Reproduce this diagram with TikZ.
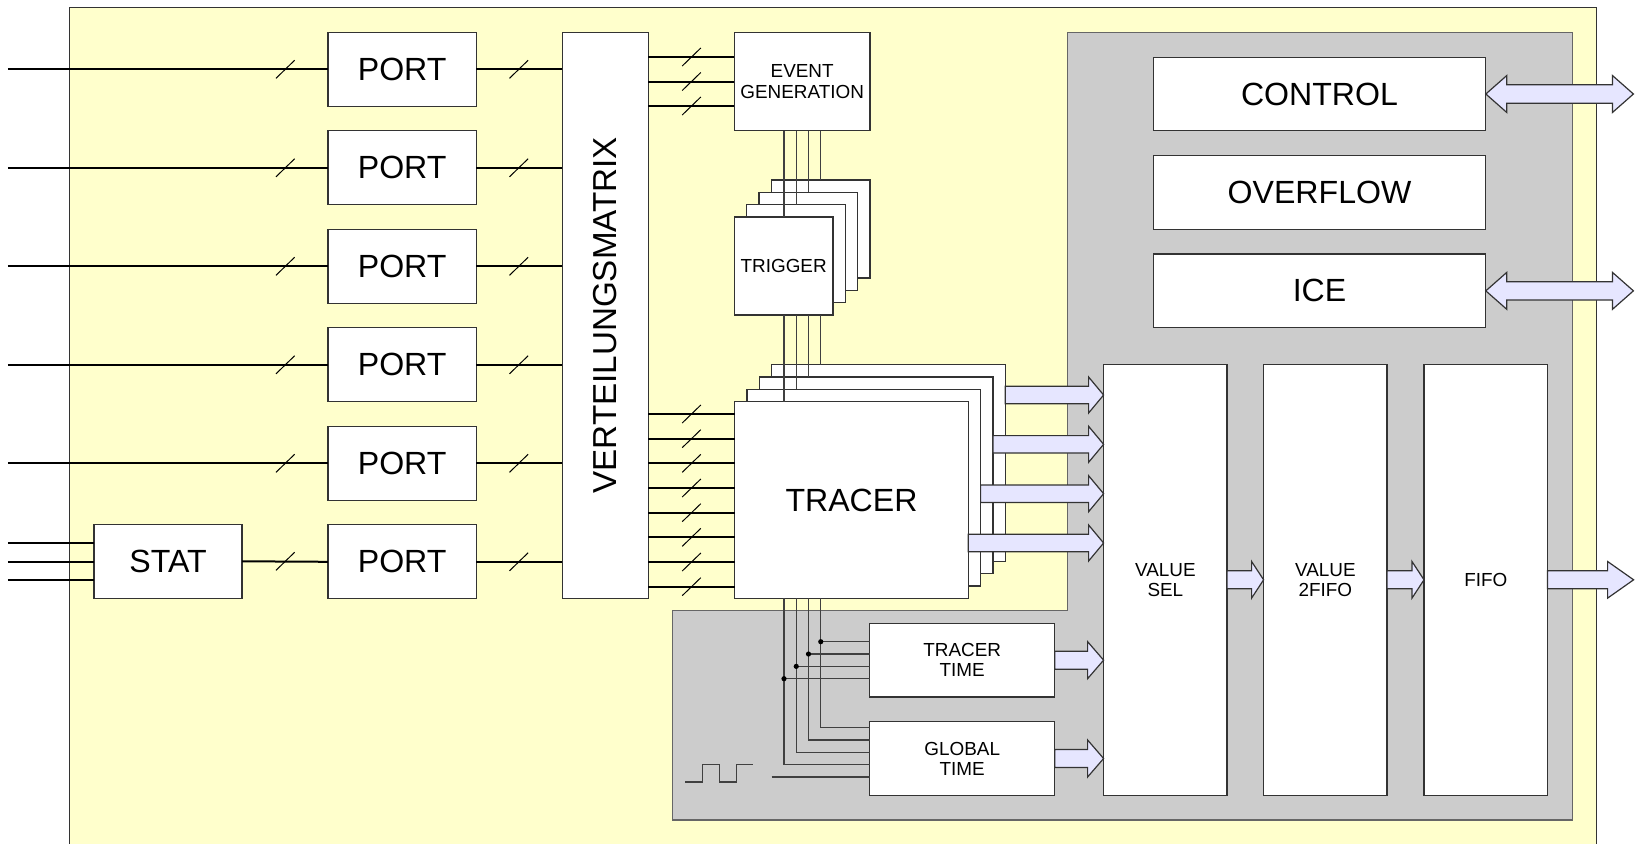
\documentclass[tikz,border=0pt]{standalone}
\usepackage{fontspec}
\setmainfont{Liberation Sans}
\usetikzlibrary{calc}
\definecolor{bgyellow}{HTML}{FFFFCC}
\definecolor{bggray}{HTML}{CCCCCC}
\definecolor{arrfill}{HTML}{E6E6FF}
\definecolor{edge}{HTML}{333333}
\tikzset{
 blk/.style={draw=edge, fill=white, line width=1.3pt, inner sep=0pt, outer sep=0pt, anchor=north west, align=center},
 bigf/.style={font=\fontsize{32.1}{35}\selectfont},
 smallf/.style={font=\fontsize{18.9}{20.2}\selectfont},
 sig/.style={draw=black, line width=2pt},
 bus/.style={draw=black!75, line width=1.4pt},
 slashmark/.style={draw=black, line width=1pt},
 fat/.style={draw=edge, fill=arrfill, line width=1.2pt, line join=miter},
}
\newcommand\busslash[2]{\draw[slashmark] (#1,#2) +(-9.3,9) -- +(9.3,-9);}
\newcommand\fatarr[5]{\path[fat] let \p1=(#1), \p2=(#2) in
 (\x1,\y1+#3) -- (\x2-#5,\y1+#3) -- (\x2-#5,\y1+#4) -- (\x2,\y1) -- (\x2-#5,\y1-#4) -- (\x2-#5,\y1-#3) -- (\x1,\y1-#3) -- cycle;}
\newcommand\dblarr[5]{\path[fat] let \p1=(#1), \p2=(#2) in
 (\x1,\y1) -- (\x1+#5,\y1+#4) -- (\x1+#5,\y1+#3) -- (\x2-#5,\y1+#3) -- (\x2-#5,\y1+#4) -- (\x2,\y1) -- (\x2-#5,\y1-#4) -- (\x2-#5,\y1-#3) -- (\x1+#5,\y1-#3) -- (\x1+#5,\y1-#4) -- cycle;}
\begin{document}
\begin{tikzpicture}[x=1pt,y=-1pt]
\useasboundingbox (0,0) rectangle (1640,843);
\clip (0,0) rectangle (1640,843);
% backgrounds
\path[fill=bgyellow, draw=edge, line width=1.3pt] (69.6,7.3) rectangle (1596.6,900);
\path[fill=bggray, draw=black!60, line width=1.3pt] (1067.4,32.3) -- (1572.4,32.3) -- (1572.4,820) -- (672.7,820) -- (672.7,610.7) -- (1067.4,610.7) -- cycle;
% ports
\foreach \i in {1,...,6}{
 \node[blk,bigf,minimum width=148.5pt,minimum height=74pt] (p\i) at (327.9,{32.3+98.5*(\i-1)}) {PORT};
}
\node[blk,bigf,minimum width=148.2pt,minimum height=74pt] (st) at (93.9,524.3) {STAT};
\node[blk,minimum width=86pt,minimum height=566pt] (mx) at (562.3,32.3) {};
\node[font=\fontsize{33.2}{36}\selectfont,rotate=90] at (mx.center) {VERTEILUNGSMATRIX};
\node[blk,smallf,minimum width=135.7pt,minimum height=98.4pt] (ev) at (734.3,32.3) {EVENT\\GENERATION};
% inputs
\foreach \i in {1,...,5}{
 \coordinate (in\i) at (p\i.west -| 7.9,0);
 \draw[sig] (in\i) -- (p\i.west);
 \pgfmathsetmacro\yy{32.3+98.5*(\i-1)+37}
 \busslash{285.3}{\yy}
}
\foreach \i in {1,...,6}{
 \draw[sig] (p\i.east) -- (mx.west |- p\i.east);
 \pgfmathsetmacro\yy{32.3+98.5*(\i-1)+37}
 \busslash{518.8}{\yy}
}
\coordinate (sa) at (7.9,542.7);
\coordinate (sb) at (7.9,561.7);
\coordinate (sc) at (7.9,580);
\draw[sig] (sa) -- (st.west |- sa);
\draw[sig] (sb) -- (st.west |- sb);
\draw[sig] (sc) -- (st.west |- sc);
\draw[sig] (st.east) -- (p6.west);
\busslash{285.3}{561.3}
% matrix to event
\foreach \yy in {57,81.5,106}{
 \draw[sig] (mx.east |- 0,\yy) -- (ev.west |- 0,\yy);
 \busslash{691.5}{\yy}
}
% trigger stack
\foreach \k in {3,2,1}{
 \node[blk,minimum width=98.7pt,minimum height=98pt] (tg\k) at ({734.3+12.33*\k},{217-12.33*\k}) {};
}
\node[blk,smallf,minimum width=98.7pt,minimum height=98pt] (tg0) at (734.3,217) {TRIGGER};
% tracer stack
\foreach \k in {3,2,1}{
 \node[blk,minimum width=233.6pt,minimum height=196.6pt] (tr\k) at ({734.7+12.3*\k},{401.7-12.3*\k}) {};
}
\node[blk,bigf,minimum width=233.6pt,minimum height=196.6pt] (tr0) at (734.7,401.7) {TRACER};
% matrix to tracer
\foreach \i in {0,...,7}{
 \pgfmathsetmacro\yy{414+24.67*\i}
 \draw[sig] (mx.east |- 0,\yy) -- (tr0.west |- 0,\yy);
 \busslash{691.5}{\yy}
}
% time boxes
\node[blk,smallf,minimum width=185pt,minimum height=73.7pt] (tt) at (869.7,623.3) {TRACER\\TIME};
\node[blk,smallf,minimum width=185pt,minimum height=73.6pt] (gt) at (869.7,721.7) {GLOBAL\\TIME};
% bus lines
\foreach \k in {0,...,3}{
 \pgfmathsetmacro\xx{784+12.25*\k}
 \pgfmathsetmacro\yd{678.7-12.33*\k}
 \pgfmathsetmacro\yt{764.7-12.33*\k}
 \draw[bus] (ev.south -| \xx,0) -- (tg\k.north -| \xx,0);
 \draw[bus] (tg0.south -| \xx,0) -- (tr\k.north -| \xx,0);
 \draw[bus] (tr0.south -| \xx,0) -- (\xx,\yt) -- (gt.west |- 0,\yt);
 \draw[bus] (\xx,\yd) -- (tt.west |- 0,\yd);
 \fill (\xx,\yd) circle (2.6pt);
}
% clock
\coordinate (clk) at (771.7,777);
\draw[bus] (clk) -- (gt.west |- clk);
\draw[draw=black!75, line width=1.3pt] (685.3,782) -- (702.7,782) -- (702.7,764.3) -- (719.3,764.3) -- (719.3,782) -- (736.7,782) -- (736.7,764.3) -- (752.7,764.3);
% right blocks
\node[blk,bigf,minimum width=332.6pt,minimum height=73.4pt] (ct) at (1153.2,57.3) {CONTROL};
\node[blk,bigf,minimum width=332.6pt,minimum height=74pt] (ov) at (1153.2,155.3) {OVERFLOW};
\node[blk,bigf,minimum width=332.6pt,minimum height=73.7pt] (ice) at (1153.2,254) {ICE};
\node[blk,smallf,minimum width=123.5pt,minimum height=431pt] (vs) at (1103.6,364.3) {VALUE\\SEL};
\node[blk,smallf,minimum width=123.5pt,minimum height=431pt] (v2) at (1263.6,364.3) {VALUE\\2FIFO};
\node[blk,smallf,minimum width=123.5pt,minimum height=431pt] (ff) at (1424,364.3) {FIFO};
% fat arrows
\fatarr{tr3.east |- 0,395}{vs.west}{8.7pt}{18pt}{15pt}
\fatarr{tr2.east |- 0,444.3}{vs.west}{8.7pt}{18pt}{15pt}
\fatarr{tr1.east |- 0,493.7}{vs.west}{8.7pt}{18pt}{15pt}
\fatarr{tr0.east |- 0,543}{vs.west}{8.7pt}{18pt}{15pt}
\fatarr{tt.east}{vs.west}{9pt}{18.5pt}{16pt}
\fatarr{gt.east}{vs.west}{9pt}{18.5pt}{16pt}
\fatarr{vs.east}{v2.west}{9pt}{18.3pt}{12pt}
\fatarr{v2.east}{ff.west}{9pt}{18.3pt}{12pt}
\coordinate (fout) at (1633.6,580);
\fatarr{ff.east}{fout}{9pt}{18.3pt}{26pt}
\coordinate (cout) at (1633.4,94);
\coordinate (iout) at (1633.4,290.8);
\dblarr{ct.east}{cout}{9.2pt}{18.5pt}{21pt}
\dblarr{ice.east}{iout}{9.2pt}{18.5pt}{21pt}
\end{tikzpicture}
\end{document}
